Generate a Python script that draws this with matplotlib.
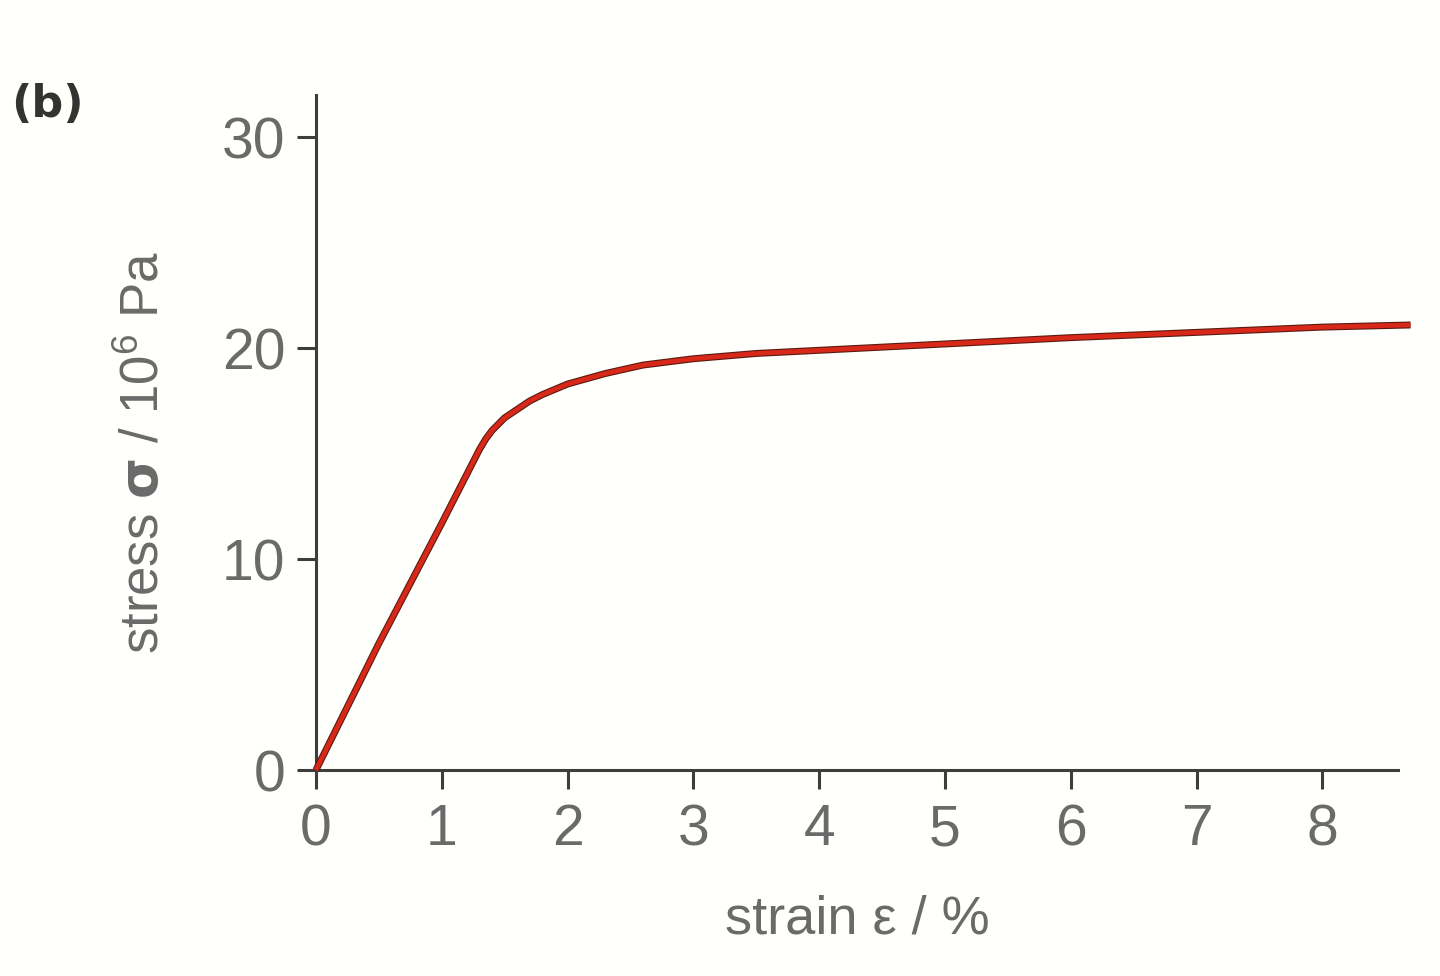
import matplotlib
matplotlib.use("Agg")
import matplotlib.pyplot as plt

strain = [0, 0.5, 1.0, 1.3, 1.35, 1.4, 1.45, 1.5, 1.6, 1.7, 1.8, 2.0, 2.15, 2.3, 2.45, 2.6, 2.8, 3.0, 3.5, 4.0, 5.0, 6.0, 7.0, 8.0, 8.7]
stress = [0, 6.0, 11.7, 15.2, 15.7, 16.1, 16.4, 16.7, 17.1, 17.5, 17.8, 18.3, 18.55, 18.8, 19.0, 19.2, 19.35, 19.5, 19.75, 19.9, 20.2, 20.5, 20.75, 21.0, 21.1]
xticks = [0, 1, 2, 3, 4, 5, 6, 7, 8]
yticks = [0, 10, 20, 30]

plt.rcParams['font.family'] = ['Liberation Sans', 'DejaVu Sans']
plt.rcParams['mathtext.fontset'] = 'custom'
plt.rcParams['mathtext.rm'] = 'Liberation Sans'
plt.rcParams['mathtext.bf'] = 'DejaVu Sans:bold'

fig = plt.figure(figsize=(14.4, 9.76), dpi=100, facecolor='#fffffc')
ax = fig.add_axes([0.2194, 0.211, 0.7514, 0.6916])
ax.set_facecolor('#fffffc')

axc = '#3d3d3d'
txtc = '#6a6a6a'

ax.plot(strain, stress, color='#5a1a10', lw=5.0, clip_on=False, solid_capstyle='butt',
        solid_joinstyle='round', zorder=3)
ax.plot(strain, stress, color='#d8281a', lw=3.4, clip_on=False, solid_capstyle='butt',
        solid_joinstyle='round', zorder=4)

ax.set_xlim(0, 8.6)
ax.set_ylim(0, 32)
ax.set_xticks(xticks)
ax.set_yticks(yticks)
ax.set_xticklabels([str(v) for v in xticks])
ax.set_yticklabels([str(v) for v in yticks])

for s in ['top', 'right']:
    ax.spines[s].set_visible(False)
for s in ['left', 'bottom']:
    ax.spines[s].set_color(axc)
    ax.spines[s].set_linewidth(2.2)

ax.tick_params(axis='both', direction='out', length=14, width=2.2, color=axc,
               labelsize=41, labelcolor=txtc)
ax.tick_params(axis='x', pad=10)
ax.tick_params(axis='y', pad=8)

ax.set_xlabel('strain ε / %', fontsize=39, color=txtc, labelpad=27)
ax.set_ylabel(r'stress $\mathbf{\sigma}$ / 10$^6$ Pa', fontsize=38, color=txtc)
ax.yaxis.set_label_coords(-0.135, 0.471)

fig.text(0.008, 0.88, '(b)', fontsize=32, fontweight='bold', color='#333333',
         family='DejaVu Sans')

fig.savefig('out.png', dpi=100, facecolor=fig.get_facecolor())
